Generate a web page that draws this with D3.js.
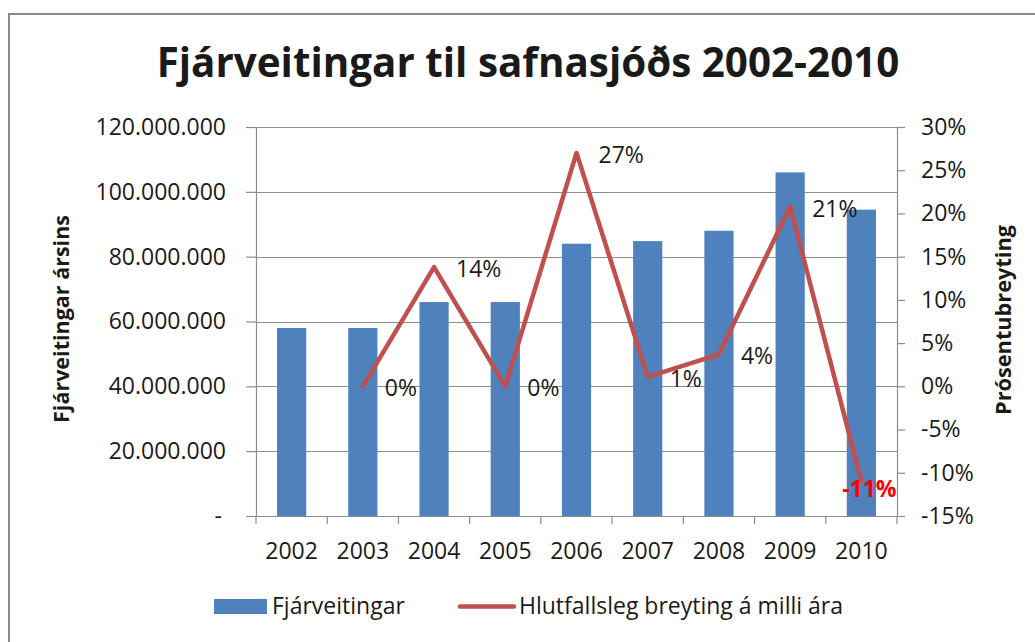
<!DOCTYPE html>
<html>
<head>
<meta charset="utf-8">
<script src="https://cdn.jsdelivr.net/npm/d3@7"></script>
<style>
  html, body { margin: 0; padding: 0; background: #fff; }
  svg { display: block; }
  text { font-family: "Open Sans", "Noto Sans", sans-serif; fill: #1a1a1a; }
</style>
</head>
<body>
<svg id="chart" width="1035" height="642"></svg>
<script>
// ---- data ----
const years = ["2002","2003","2004","2005","2006","2007","2008","2009","2010"];
const funding = [58000000, 58000000, 66000000, 66000000, 84000000, 84800000, 88000000, 106000000, 94500000];
const changeYears = ["2003","2004","2005","2006","2007","2008","2009","2010"];
const changePct = [0, 0.138, 0, 0.27, 0.011, 0.037, 0.208, -0.11];
const changeLabels = ["0%","14%","0%","27%","1%","4%","21%","-11%"];
const leftTicks = [0, 20000000, 40000000, 60000000, 80000000, 100000000, 120000000];
const leftTickLabels = ["-", "20.000.000", "40.000.000", "60.000.000", "80.000.000", "100.000.000", "120.000.000"];
const rightTicks = [-0.15,-0.10,-0.05,0,0.05,0.10,0.15,0.20,0.25,0.30];
const rightTickLabels = ["-15%","-10%","-5%","0%","5%","10%","15%","20%","25%","30%"];
const titleText = "Fjárveitingar til safnasjóðs 2002-2010";
const leftAxisTitle = "Fjárveitingar ársins";
const rightAxisTitle = "Prósentubreyting";
const legendBar = "Fjárveitingar";
const legendLine = "Hlutfallsleg breyting á milli ára";

// ---- layout ----
const svg = d3.select("#chart");
const L = 256, R = 897, T = 127, B = 516;
const barColor = "#4F81BD", lineColor = "#C0504D", gridColor = "#8c8c8c";

const x = d3.scaleBand().domain(years).range([L, R]).padding(0);
const yL = d3.scaleLinear().domain([0, 120000000]).range([B, T]);
const yR = d3.scaleLinear().domain([-0.15, 0.30]).range([B, T]);

function fit(sel, target) {
  const w = sel.node().getComputedTextLength();
  const fs = parseFloat(sel.attr("font-size"));
  sel.attr("font-size", fs * target / w);
}

// outer frame
svg.append("rect").attr("x", 9).attr("y", 14).attr("width", 1040).attr("height", 650)
  .attr("fill", "none").attr("stroke", "#8a8a8a").attr("stroke-width", 2);

// title
const title = svg.append("text").attr("x", 528).attr("y", 77).attr("text-anchor", "middle")
  .attr("font-weight", "bold").attr("font-size", 40).attr("fill", "#000").text(titleText);
fit(title, 743);

// gridlines
svg.append("g").selectAll("line").data(leftTicks.filter(d => d > 0)).join("line")
  .attr("x1", L).attr("x2", R).attr("y1", d => Math.round(yL(d)) + 0.5).attr("y2", d => Math.round(yL(d)) + 0.5)
  .attr("stroke", gridColor).attr("stroke-width", 1.2);

// left axis
const axL = svg.append("g").attr("transform", `translate(${L},0)`)
  .call(d3.axisLeft(yL).tickValues(leftTicks).tickSize(10).tickPadding(20)
    .tickFormat((d, i) => leftTickLabels[i]));
axL.select(".domain").attr("stroke", gridColor).attr("stroke-width", 1.2);
axL.selectAll(".tick line").attr("stroke", gridColor).attr("stroke-width", 1.2);
axL.selectAll(".tick text").attr("font-size", 23).attr("fill", "#1a1a1a")
  .attr("font-family", "'Open Sans', sans-serif");
axL.selectAll(".tick text").filter((d, i) => i === 0).attr("dx", -4);

// right axis
const axR = svg.append("g").attr("transform", `translate(${R},0)`)
  .call(d3.axisRight(yR).tickValues(rightTicks).tickSize(8).tickPadding(16)
    .tickFormat((d, i) => rightTickLabels[i]));
axR.select(".domain").attr("stroke", gridColor).attr("stroke-width", 1.2);
axR.selectAll(".tick line").attr("stroke", gridColor).attr("stroke-width", 1.2);
axR.selectAll(".tick text").attr("font-size", 23).attr("fill", "#1a1a1a")
  .attr("font-family", "'Open Sans', sans-serif");

// bars
const bw = x.bandwidth() * 0.41;
svg.append("g").selectAll("rect").data(years).join("rect")
  .attr("x", (d) => x(d) + x.bandwidth() / 2 - bw / 2)
  .attr("width", bw)
  .attr("y", (d, i) => yL(funding[i]))
  .attr("height", (d, i) => B - yL(funding[i]))
  .attr("fill", barColor);

// bottom axis
const axB = svg.append("g").attr("transform", `translate(0,${B})`);
axB.append("line").attr("x1", L).attr("x2", R).attr("y1", 0.5).attr("y2", 0.5)
  .attr("stroke", gridColor).attr("stroke-width", 1.2);
const boundaries = years.map(d => x(d)).concat([R]);
axB.selectAll("line.tk").data(boundaries).join("line").attr("class", "tk")
  .attr("x1", d => d).attr("x2", d => d).attr("y1", 0).attr("y2", 8)
  .attr("stroke", gridColor).attr("stroke-width", 1.2);
axB.selectAll("text").data(years).join("text")
  .attr("x", d => x(d) + x.bandwidth() / 2).attr("y", 43)
  .attr("text-anchor", "middle").attr("font-size", 23).text(d => d);

// line
const cx = d => x(d) + x.bandwidth() / 2;
const lineGen = d3.line().x((d, i) => cx(changeYears[i])).y(d => yR(d));
svg.append("path").datum(changePct).attr("d", lineGen)
  .attr("fill", "none").attr("stroke", lineColor).attr("stroke-width", 4.5)
  .attr("stroke-linejoin", "round").attr("stroke-linecap", "round");

// data labels
svg.append("g").selectAll("text").data(changePct).join("text")
  .attr("x", (d, i) => d < 0 ? cx(changeYears[i]) + 8 : cx(changeYears[i]) + 22)
  .attr("y", (d, i) => d < 0 ? yR(d) + 16 : yR(d) + 10)
  .attr("text-anchor", d => d < 0 ? "middle" : "start")
  .attr("font-size", 23)
  .attr("font-weight", d => d < 0 ? "bold" : "normal")
  .style("fill", d => d < 0 ? "#ff0000" : "#1a1a1a")
  .text((d, i) => changeLabels[i]);

// axis titles
const lt = svg.append("text").attr("transform", "translate(69,319) rotate(-90)")
  .attr("text-anchor", "middle").attr("font-weight", "bold").attr("font-size", 21)
  .attr("fill", "#000").text(leftAxisTitle);
fit(lt, 208);
const rt = svg.append("text").attr("transform", "translate(1011,320) rotate(-90)")
  .attr("text-anchor", "middle").attr("font-weight", "bold").attr("font-size", 21)
  .attr("fill", "#000").text(rightAxisTitle);
fit(rt, 190);

// legend
const lg = svg.append("g");
lg.append("rect").attr("x", 214).attr("y", 599).attr("width", 53).attr("height", 15).attr("fill", barColor);
lg.append("text").attr("x", 272).attr("y", 614).attr("font-size", 23).text(legendBar);
lg.append("line").attr("x1", 460).attr("x2", 514).attr("y1", 606.5).attr("y2", 606.5)
  .attr("stroke", lineColor).attr("stroke-width", 4.5).attr("stroke-linecap", "round");
lg.append("text").attr("x", 519).attr("y", 614).attr("font-size", 23).text(legendLine);
</script>
</body>
</html>
